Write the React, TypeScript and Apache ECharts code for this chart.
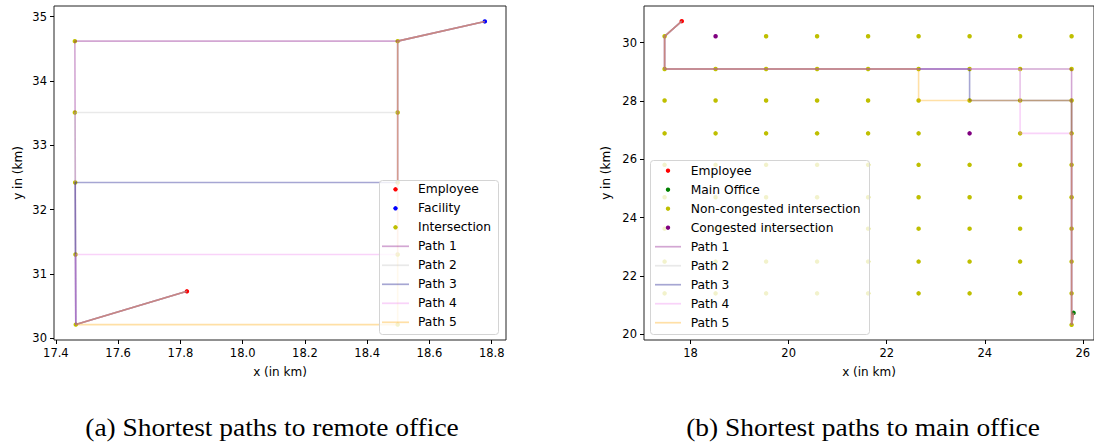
import React, { useEffect, useRef } from 'react';
import * as echarts from 'echarts';

// ---------- (a) remote office ----------
const remoteEmployee: number[] = [17.821, 30.727];
const remoteFacility: number[] = [18.778, 34.927];
const remoteIntersections: number[][] = [
  [17.461, 34.62], [17.461, 33.51], [17.462, 32.42], [17.463, 31.3], [17.464, 30.21],
  [18.498, 34.62], [18.498, 33.51], [18.498, 32.42], [18.498, 31.3], [18.498, 30.21],
];
const remotePath1: number[][] = [[17.821, 30.727], [17.464, 30.21], [17.461, 34.62], [18.498, 34.62], [18.778, 34.927]];
const remotePath2: number[][] = [[17.821, 30.727], [17.464, 30.21], [17.461, 33.51], [18.498, 33.51], [18.498, 34.62], [18.778, 34.927]];
const remotePath3: number[][] = [[17.821, 30.727], [17.464, 30.21], [17.462, 32.42], [18.498, 32.42], [18.498, 33.51], [18.498, 34.62], [18.778, 34.927]];
const remotePath4: number[][] = [[17.821, 30.727], [17.464, 30.21], [17.463, 31.3], [18.498, 31.3], [18.498, 32.42], [18.498, 33.51], [18.498, 34.62], [18.778, 34.927]];
const remotePath5: number[][] = [[17.821, 30.727], [17.464, 30.21], [18.498, 30.21], [18.498, 31.3], [18.498, 32.42], [18.498, 33.51], [18.498, 34.62], [18.778, 34.927]];
const remoteXTicks: number[] = [17.4, 17.6, 17.8, 18.0, 18.2, 18.4, 18.6, 18.8];
const remoteYTicks: number[] = [30, 31, 32, 33, 34, 35];

// ---------- (b) main office ----------
const mainEmployee: number[] = [17.82, 30.74];
const mainOffice: number[] = [25.81, 20.73];
const gridColumns: number[] = [17.47, 18.51, 19.54, 20.58, 21.62, 22.65, 23.69, 24.72, 25.77];
const gridRows: number[] = [30.22, 29.1, 28.02, 26.89, 25.81, 24.7, 23.62, 22.49, 21.4];
const extraIntersections: number[][] = [[25.77, 20.32]];
const congestedIntersections: number[][] = [[18.51, 30.22], [23.69, 26.89]];
const mainCommon: number[][] = [
  [17.82, 30.74], [17.47, 30.22], [17.47, 29.1], [18.51, 29.1], [19.54, 29.1],
  [20.58, 29.1], [21.62, 29.1], [22.65, 29.1],
];
const mainTail: number[][] = [
  [25.77, 28.02], [25.77, 26.89], [25.77, 25.81], [25.77, 24.7], [25.77, 23.62],
  [25.77, 22.49], [25.77, 21.4], [25.77, 20.32], [25.81, 20.73],
];
const mainPath1: number[][] = [...mainCommon, [23.69, 29.1], [24.72, 29.1], [25.77, 29.1], ...mainTail];
const mainPath2: number[][] = [...mainCommon, [23.69, 29.1], [24.72, 29.1], [24.72, 28.02], ...mainTail];
const mainPath3: number[][] = [...mainCommon, [23.69, 29.1], [23.69, 28.02], [24.72, 28.02], ...mainTail];
const mainPath4: number[][] = [...mainCommon, [23.69, 29.1], [24.72, 29.1], [24.72, 28.02], [24.72, 26.89], [25.77, 26.89], ...mainTail.slice(2)];
const mainPath5: number[][] = [...mainCommon, [22.65, 28.02], [23.69, 28.02], [24.72, 28.02], ...mainTail];
const mainXTicks: number[] = [18, 20, 22, 24, 26];
const mainYTicks: number[] = [20, 22, 24, 26, 28, 30];

const pathNames: string[] = ['Path 1', 'Path 2', 'Path 3', 'Path 4', 'Path 5'];
const pathColors: string[] = [
  'rgba(128,0,128,0.35)',
  'rgba(192,192,192,0.35)',
  'rgba(0,0,128,0.35)',
  'rgba(238,130,238,0.35)',
  'rgba(255,165,0,0.35)',
];
const remoteDotNames: string[] = ['Employee', 'Facility', 'Intersection'];
const remoteDotColors: string[] = ['#ff0000', '#0000ff', '#bfbf00'];
const mainDotNames: string[] = ['Employee', 'Main Office', 'Non-congested intersection', 'Congested intersection'];
const mainDotColors: string[] = ['#ff0000', '#008000', '#bfbf00', '#800080'];

const FONT = 'DejaVu Sans';

function buildMainIntersections(): number[][] {
  const pts: number[][] = [];
  for (const y of gridRows) {
    for (const x of gridColumns) {
      const congested = congestedIntersections.some((c) => c[0] === x && c[1] === y);
      if (!congested) pts.push([x, y]);
    }
  }
  return pts.concat(extraIntersections);
}

function valueAxis(gridIndex: number, min: number, max: number, ticks: number[], digits: number, name: string, nameGap: number) {
  return {
    type: 'value',
    gridIndex,
    min,
    max,
    name,
    nameLocation: 'middle',
    nameGap,
    nameTextStyle: { fontFamily: FONT, fontSize: 12, color: '#000' },
    axisLine: { show: false },
    splitLine: { show: false },
    axisTick: { show: true, inside: false, length: 4, customValues: ticks, lineStyle: { color: '#000', width: 1 } },
    axisLabel: {
      show: true,
      customValues: ticks,
      margin: 7,
      fontFamily: FONT,
      fontSize: 11.5,
      color: '#000',
      formatter: (v: number) => v.toFixed(digits),
    },
  };
}

// Legend box drawn with graphic elements (matplotlib-like layout)
function legendGraphic(
  box: { x: number; y: number; w: number; h: number },
  firstY: number,
  lineX0: number,
  lineX1: number,
  textX: number,
  dotNames: string[],
  dotColors: string[],
) {
  const children: any[] = [
    {
      type: 'rect',
      shape: { x: box.x + 0.5, y: box.y + 0.5, width: box.w, height: box.h, r: 3 },
      style: { fill: 'rgba(255,255,255,0.8)', stroke: '#d4d4d4', lineWidth: 1 },
      z: 100,
    },
  ];
  const names = [...dotNames, ...pathNames];
  names.forEach((name, i) => {
    const y = firstY + 19 * i;
    if (i < dotNames.length) {
      children.push({
        type: 'circle',
        shape: { cx: (lineX0 + lineX1) / 2, cy: y, r: 2.2 },
        style: { fill: dotColors[i] },
        z: 101,
      });
    } else {
      children.push({
        type: 'line',
        shape: { x1: lineX0, y1: y, x2: lineX1, y2: y },
        style: { stroke: pathColors[i - dotNames.length], lineWidth: 1.7 },
        z: 101,
      });
    }
    children.push({
      type: 'text',
      x: textX,
      y,
      style: {
        text: name,
        fontFamily: FONT,
        fontSize: 12.3,
        fill: '#000',
        align: 'left',
        verticalAlign: 'middle',
      },
      z: 101,
    });
  });
  return { type: 'group', children };
}

function scatter(name: string, idx: number, data: number[][], color: string, size: number) {
  return {
    type: 'scatter',
    name,
    xAxisIndex: idx,
    yAxisIndex: idx,
    data,
    symbol: 'circle',
    symbolSize: size,
    itemStyle: { color, opacity: 1 },
    z: 2,
    silent: true,
  };
}

function pathSeries(name: string, idx: number, data: number[][], color: string) {
  return {
    type: 'line',
    name,
    xAxisIndex: idx,
    yAxisIndex: idx,
    data,
    symbol: 'none',
    color,
    itemStyle: { color },
    lineStyle: { color, width: 1.6 },
    z: 3,
    silent: true,
  };
}

function caption(x: number, text: string) {
  return {
    type: 'text',
    x,
    y: 428,
    scaleX: 1.12,
    style: {
      text,
      fontFamily: 'Liberation Serif',
      fontSize: 24.5,
      fill: '#000',
      align: 'center',
      verticalAlign: 'middle',
    },
  };
}

export default function App() {
  const ref = useRef<HTMLDivElement>(null);
  useEffect(() => {
    document.body.style.margin = '0';
    const chart = echarts.init(ref.current as HTMLDivElement, null, { renderer: 'svg' });
    const remotePaths = [remotePath1, remotePath2, remotePath3, remotePath4, remotePath5];
    const mainPaths = [mainPath1, mainPath2, mainPath3, mainPath4, mainPath5];
    const option: any = {
      animation: false,
      backgroundColor: '#ffffff',
      grid: [
        { left: 54, top: 6, width: 452, height: 334, show: true, borderColor: '#222', borderWidth: 1, backgroundColor: 'transparent' },
        { left: 644, top: 6, width: 451.5, height: 334, show: true, borderColor: '#222', borderWidth: 1, backgroundColor: 'transparent' },
      ],
      xAxis: [
        valueAxis(0, 17.394, 18.846, remoteXTicks, 1, 'x (in km)', 26),
        valueAxis(1, 17.05, 26.227, mainXTicks, 0, 'x (in km)', 26),
      ],
      yAxis: [
        valueAxis(0, 29.97, 35.167, remoteYTicks, 0, 'y in (km)', 30),
        valueAxis(1, 19.8, 31.26, mainYTicks, 0, 'y in (km)', 32),
      ],
      series: [
        scatter('Intersection', 0, remoteIntersections, '#bfbf00', 4.5),
        scatter('Employee', 0, [remoteEmployee], '#ff0000', 4.5),
        scatter('Facility', 0, [remoteFacility], '#0000ff', 4.5),
        ...remotePaths.map((p, i) => pathSeries(pathNames[i], 0, p, pathColors[i])),
        scatter('Non-congested intersection', 1, buildMainIntersections(), '#bfbf00', 4.5),
        scatter('Congested intersection', 1, congestedIntersections, '#800080', 4.5),
        scatter('Employee', 1, [mainEmployee], '#ff0000', 4.5),
        scatter('Main Office', 1, [mainOffice], '#008000', 4.5),
        ...mainPaths.map((p, i) => pathSeries(pathNames[i], 1, p, pathColors[i])),
      ],
      graphic: [
        legendGraphic({ x: 379, y: 180, w: 119, h: 154 }, 189.3, 382, 409, 418, remoteDotNames, remoteDotColors),
        legendGraphic({ x: 650, y: 160, w: 219, h: 174 }, 170.7, 655, 681, 690.7, mainDotNames, mainDotColors),
        caption(272, '(a) Shortest paths to remote office'),
        caption(863, '(b) Shortest paths to main office'),
      ],
    };
    chart.setOption(option);
    return () => chart.dispose();
  }, []);
  return <div ref={ref} style={{ width: 1094, height: 445 }} />;
}
